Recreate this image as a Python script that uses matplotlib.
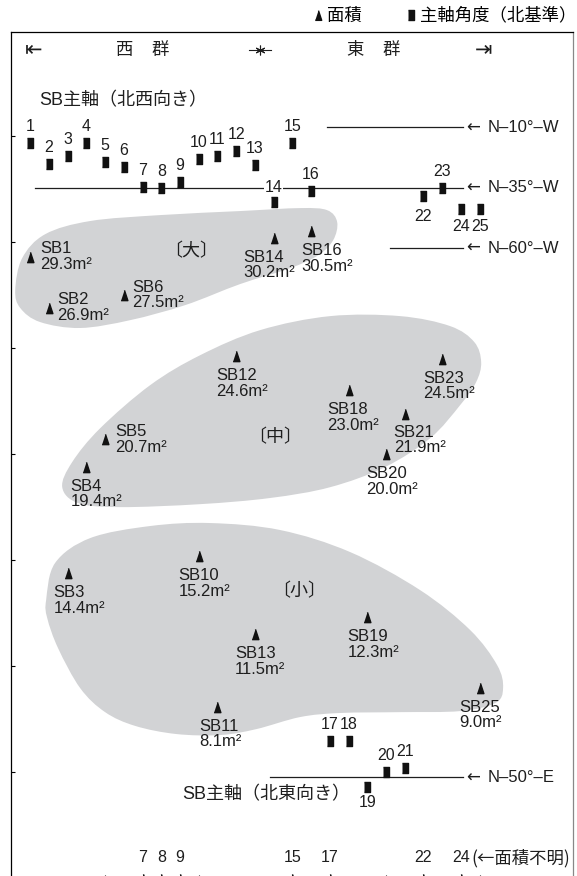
import numpy as np
import matplotlib
matplotlib.use('Agg')
import matplotlib.pyplot as plt
from matplotlib.path import Path
from matplotlib.patches import PathPatch
from matplotlib.lines import Line2D

plt.rcParams['font.family'] = ['Liberation Sans', 'Noto Sans CJK JP', 'DejaVu Sans']

# floor area (m2) of each building (SB number)
area_sb = [1, 2, 3, 4, 5, 6, 10, 11, 12, 13, 14, 16, 18, 19, 20, 21, 23, 25]
area_val = [29.3, 26.9, 14.4, 19.4, 20.7, 27.5, 15.2, 8.1, 24.6, 11.5,
            30.2, 30.5, 23.0, 12.3, 20.0, 21.9, 24.5, 9.0]
unknown_sb = [7, 8, 9, 15, 17, 22, 24]   # area unknown

# main axis angle, buildings facing north-west (degrees west of north)
nw_sb = [1, 2, 3, 4, 5, 6, 7, 8, 9, 10, 11, 12, 13, 14, 15, 16, 22, 23, 24, 25]
nw_deg = [16.5, 25, 22, 16.5, 24.5, 26.5, 34.5, 35, 32.5, 23, 22, 20, 25.5,
          41, 16.5, 36.5, 38.5, 35, 44, 44]
# buildings facing north-east (degrees east of north)
ne_sb = [17, 18, 19, 20, 21]
ne_deg = [65, 65, 46, 52, 54]

ref_nw = [10, 35, 60]
ref_ne = [50]

# outlines of the size groups (SB slot, m2)
big_x = [0.2, 0.57, 1.8, 4.2, 7.94, 12.21, 15.42, 16.86, 17.39, 17.18, 16.38,
         14.88, 12.21, 9.28, 6.34, 3.67, 1.53, 0.47]
big_y = [27.72, 29.23, 30.36, 30.98, 31.26, 31.45, 31.59, 31.49, 30.93, 30.08,
         29.37, 28.76, 28.01, 27.02, 26.31, 25.94, 26.22, 26.88]
mid_x = [2.71, 3.24, 4.74, 7.41, 10.08, 13.28, 17.02, 20.75, 23.42, 24.71, 25.08,
         24.81, 23.96, 22.36, 19.95, 17.02, 13.81, 10.08, 5.80, 3.56]
mid_y = [18.44, 19.62, 21.22, 23.25, 24.66, 25.84, 26.50, 26.50, 26.03, 25.28,
         24.33, 23.39, 22.31, 20.75, 19.39, 18.44, 17.93, 17.64, 17.50, 17.69]
small_x = [1.85, 2.33, 4.20, 7.41, 10.61, 14.35, 18.09, 21.82, 24.49, 25.93, 26.25,
           25.83, 23.96, 20.75, 17.55, 15.42, 13.07, 11.14, 8.79, 6.61, 5.0, 3.67,
           2.49, 1.91]
small_y = [13.12, 14.87, 16.04, 16.61, 16.75, 16.42, 15.38, 13.59, 11.71, 10.06,
           8.97, 8.27, 7.89, 7.84, 7.80, 7.61, 7.04, 6.76, 6.81, 7.19, 7.84, 8.97,
           10.85, 12.27]

# label placement: (side, dx, dy) in pixels
lab_off = {1: ('r', 10, 0), 2: ('r', 8, 0), 5: ('r', 10, 0), 6: ('r', 8, 0),
           3: ('b', -14, -12), 4: ('b', -16, -12), 10: ('b', -20, -12),
           11: ('b', -18, -12), 12: ('b', -20, -12), 13: ('b', -20, -12),
           14: ('b', -30, -12), 16: ('b', -10, -12), 18: ('b', -21, -12),
           19: ('b', -20, -12), 20: ('b', -20, -12), 21: ('b', -11, -11),
           23: ('b', -19, -12), 25: ('b', -20, -12)}

INK = '#1e1e1e'


def blob(xs, ys):
    p = np.column_stack([xs, ys])
    n = len(p)
    verts = [p[0]]
    codes = [Path.MOVETO]
    for i in range(n):
        p0, p1, p2, p3 = p[i - 1], p[i], p[(i + 1) % n], p[(i + 2) % n]
        verts += [p1 + (p2 - p0) / 6, p2 - (p3 - p1) / 6, p2]
        codes += [Path.CURVE4] * 3
    verts.append(p[0])
    codes.append(Path.CLOSEPOLY)
    return PathPatch(Path(verts, codes), fc='#d2d3d5', ec='none', zorder=0)


tri = [(-0.33, -0.5), (0.33, -0.5), (0, 0.5)]
rect = [(-0.36, -0.5), (0.36, -0.5), (0.36, 0.5), (-0.36, 0.5)]

fig = plt.figure(figsize=(5.77, 8.76), dpi=100)
ax = fig.add_axes([0.0199, -0.0029, 0.9737, 0.9667])
ax.set_xlim(0, 30)
ax.set_ylim(0, 39.9)
ax.set_xticks([5, 10, 15, 20, 25])
ax.set_yticks([5, 10, 15, 20, 25, 30, 35])
ax.tick_params(direction='in', length=3, width=0.8, labelbottom=False, labelleft=False)
for s in ax.spines.values():
    s.set_linewidth(0.9)
ax.spines['right'].set_color('#888888')

for xs, ys in [(big_x, big_y), (mid_x, mid_y), (small_x, small_y)]:
    ax.add_patch(blob(xs, ys))

# area triangles
ax.plot(area_sb, area_val, ls='none', marker=tri, ms=7.4, color='#111111', zorder=3)
for sb, v in zip(area_sb, area_val):
    side, dx, dy = lab_off[sb]
    ax.annotate(f'SB{sb}\n{v:.1f}m²', (sb, v), xytext=(dx, dy),
                textcoords='offset pixels', ha='left',
                va='center' if side == 'r' else 'top',
                fontsize=12, linespacing=1.05, color=INK, zorder=4)
ax.plot(unknown_sb, [0] * len(unknown_sb), ls='none', marker=tri, ms=7.4,
        color='#111111', clip_on=False, zorder=3)
for sb in unknown_sb:
    ax.text(sb, 0.97, str(sb), ha='center', va='center', fontsize=11.5, color=INK)
ax.text(24.55, 0.97, '(←面積不明)', ha='left', va='center', fontsize=12.5,
        color=INK, family=['Noto Sans CJK JP'])

for x, y, s in [(9.57, 29.53, '〔大〕'), (14.08, 20.79, '〔中〕'), (15.34, 13.51, '〔小〕')]:
    ax.text(x, y, s, ha='center', va='center', fontsize=13, color=INK)

# header
hy = 39.03
ax.text(1.16, hy, '⇤', ha='center', va='center', fontsize=15, color=INK,
        family=['DejaVu Sans'])
ax.text(25.2, hy, '⇥', ha='center', va='center', fontsize=15, color=INK,
        family=['DejaVu Sans'])
for x, s in [(6.05, '西'), (7.94, '群'), (18.35, '東'), (20.27, '群')]:
    ax.text(x, hy, s, ha='center', va='center', fontsize=12.5, color=INK)
ax.plot([12.69, 13.87], [hy, hy], color=INK, lw=0.8)
ax.plot([13.28], [hy], marker=(6, 2, 0), ms=7, color=INK, mew=0.8)
ax.text(1.5, 36.67, 'SB主軸（北西向き）', ha='left', va='center', fontsize=13, color=INK)
ax.text(9.13, 3.94, 'SB主軸（北東向き）', ha='left', va='center', fontsize=13, color=INK)

# angle axes
ax_nw = ax.twinx()
ax_nw.set_ylim(320.93, -29.57)
ax_ne = ax.twinx()
ax_ne.set_ylim(8.1, 358.6)
for a in (ax_nw, ax_ne):
    a.axis('off')


def ref_line(a, x0, d, lab):
    a.plot([x0, 24.12], [d, d], color=INK, lw=0.9, zorder=1)
    a.text(24.3, d, '←', ha='left', va='center', fontsize=12, color=INK,
           family=['DejaVu Sans'])
    a.text(25.45, d, lab, ha='left', va='center', fontsize=12, color=INK)


line_start = {10: 16.86, 35: 1.27, 60: 20.22}
for d in ref_nw:
    ref_line(ax_nw, line_start[d], d, f'N–{d}°–W')
for d in ref_ne:
    ref_line(ax_ne, 13.81, d, f'N–{d}°–E')

ax_nw.plot(nw_sb, nw_deg, ls='none', marker=rect, ms=6.7, color='#111111', zorder=3)
ax_ne.plot(ne_sb, ne_deg, ls='none', marker=rect, ms=6.7, color='#111111', zorder=3)

below = {19: 16, 22: 20, 24: 17, 25: 17}
for a, sbs, degs in [(ax_nw, nw_sb, nw_deg), (ax_ne, ne_sb, ne_deg)]:
    for sb, d in zip(sbs, degs):
        dy = -below[sb] if sb in below else 16.5
        kw = {}
        if sb == 14:
            dy = 15
            kw = dict(bbox=dict(fc='white', ec='none', pad=0.5))
        a.annotate(str(sb), (sb, d), xytext=(0, dy), textcoords='offset pixels',
                   ha='center', va='center', fontsize=11.5, color=INK,
                   zorder=4, **kw)

# legend
handles = [Line2D([], [], ls='none', marker=tri, ms=7, color='#111111'),
           Line2D([], [], ls='none', marker=rect, ms=6.5, color='#111111')]
fig.legend(handles, ['面積', '主軸角度（北基準）'], loc='upper right',
           bbox_to_anchor=(1.006, 0.997), ncol=2, frameon=False, fontsize=12.5,
           handlelength=0.5, handletextpad=0.25, columnspacing=2.6,
           borderaxespad=0.15, borderpad=0.1)

fig.savefig('out.png', dpi=100)
